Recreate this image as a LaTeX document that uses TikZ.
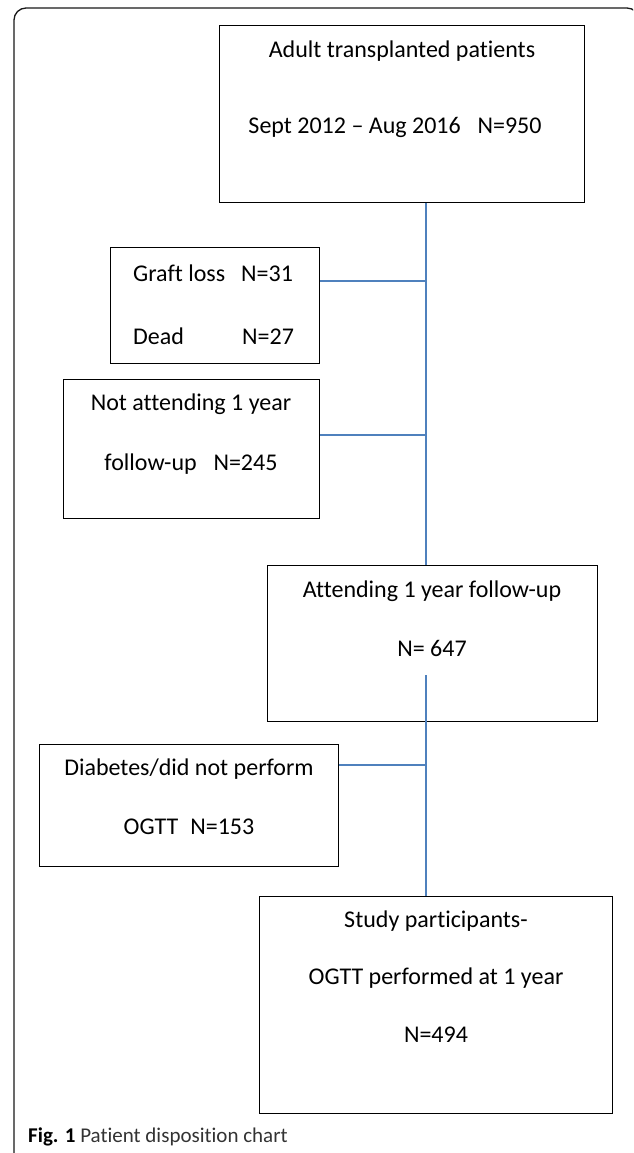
\documentclass[tikz,border=0pt]{standalone}
\usepackage{fontspec}
\setmainfont{Carlito}[Ligatures=NoCommon]
\definecolor{linkblue}{RGB}{79,129,189}
\begin{document}
\begin{tikzpicture}[x=1pt,y=-1pt,
  box/.style={draw=black, line width=1.4pt, inner sep=0pt, anchor=north west},
  txt/.style={anchor=base, inner sep=0pt, font=\fontsize{24}{28}\selectfont},
  ltxt/.style={anchor=base west, inner sep=0pt, font=\fontsize{24}{28}\selectfont},
  link/.style={draw=linkblue, line width=1.3pt},
  frame/.style={draw=black!90, line width=1.3pt, rounded corners=12pt}]
\useasboundingbox (0,0) rectangle (633,1153);
\begin{scope}
\clip (0,0) rectangle (633,1153);
\draw[frame] (14,1175) -- (14,8) -- (639,8) -- (639,1175);
\end{scope}
% boxes
\node[box, minimum width=365pt, minimum height=177pt] (top) at (219,25) {};
\node[box, minimum width=209pt, minimum height=116pt] (graft) at (110,247) {};
\node[box, minimum width=256pt, minimum height=139pt] (notatt) at (63,379) {};
\node[box, minimum width=330pt, minimum height=156pt] (att) at (267,565) {};
\node[box, minimum width=299pt, minimum height=122pt] (diab) at (39,744) {};
\node[box, minimum width=353pt, minimum height=217pt] (study) at (259,896) {};
% texts
\node[txt] (t1) at (402,58) {Adult transplanted patients};
\node[txt] (t2) at (395,133) {Sept 2012 -- Aug 2016\hspace{0.7em}N=950};
\node[ltxt] (g1) at (133,281) {\makebox[108pt][l]{Graft loss}N=31};
\node[ltxt] (g2) at (133,344) {\makebox[109pt][l]{Dead}N=27};
\node[txt] (n1) at (191,410) {Not attending 1 year};
\node[txt] (n2) at (191,470) {follow-up\hspace{0.7em}N=245};
\node[txt] (a1) at (432,597) {Attending 1 year follow-up};
\node[txt] (a2) at (432,656) {N= 647};
\node[txt] (d1) at (189,775) {Diabetes/did not perform};
\node[txt] (d2) at (189,834) {OGTT\hspace{0.5em}N=153};
\node[txt] (s1) at (436,927) {Study participants-};
\node[txt] (s2) at (436,984) {OGTT performed at 1 year};
\node[txt] (s3) at (436,1042) {N=494};
\node[anchor=base west, inner sep=0pt, font=\fontsize{21}{24}\selectfont, text=black!80] (cap) at (28,1142) {\textbf{\color{black}Fig. 1} Patient disposition chart};
% connectors
\coordinate (j1) at (426,281);
\coordinate (j2) at (426,435);
\coordinate (j3) at (426,675);
\coordinate (j4) at (426,765);
\draw[link] (top.south -| j1) -- (att.north -| j1);
\draw[link] (graft.east |- j1) -- (j1);
\draw[link] (notatt.east |- j2) -- (j2);
\draw[link] (j3) -- (study.north -| j3);
\draw[link] (diab.east |- j4) -- (j4);
\end{tikzpicture}
\end{document}
